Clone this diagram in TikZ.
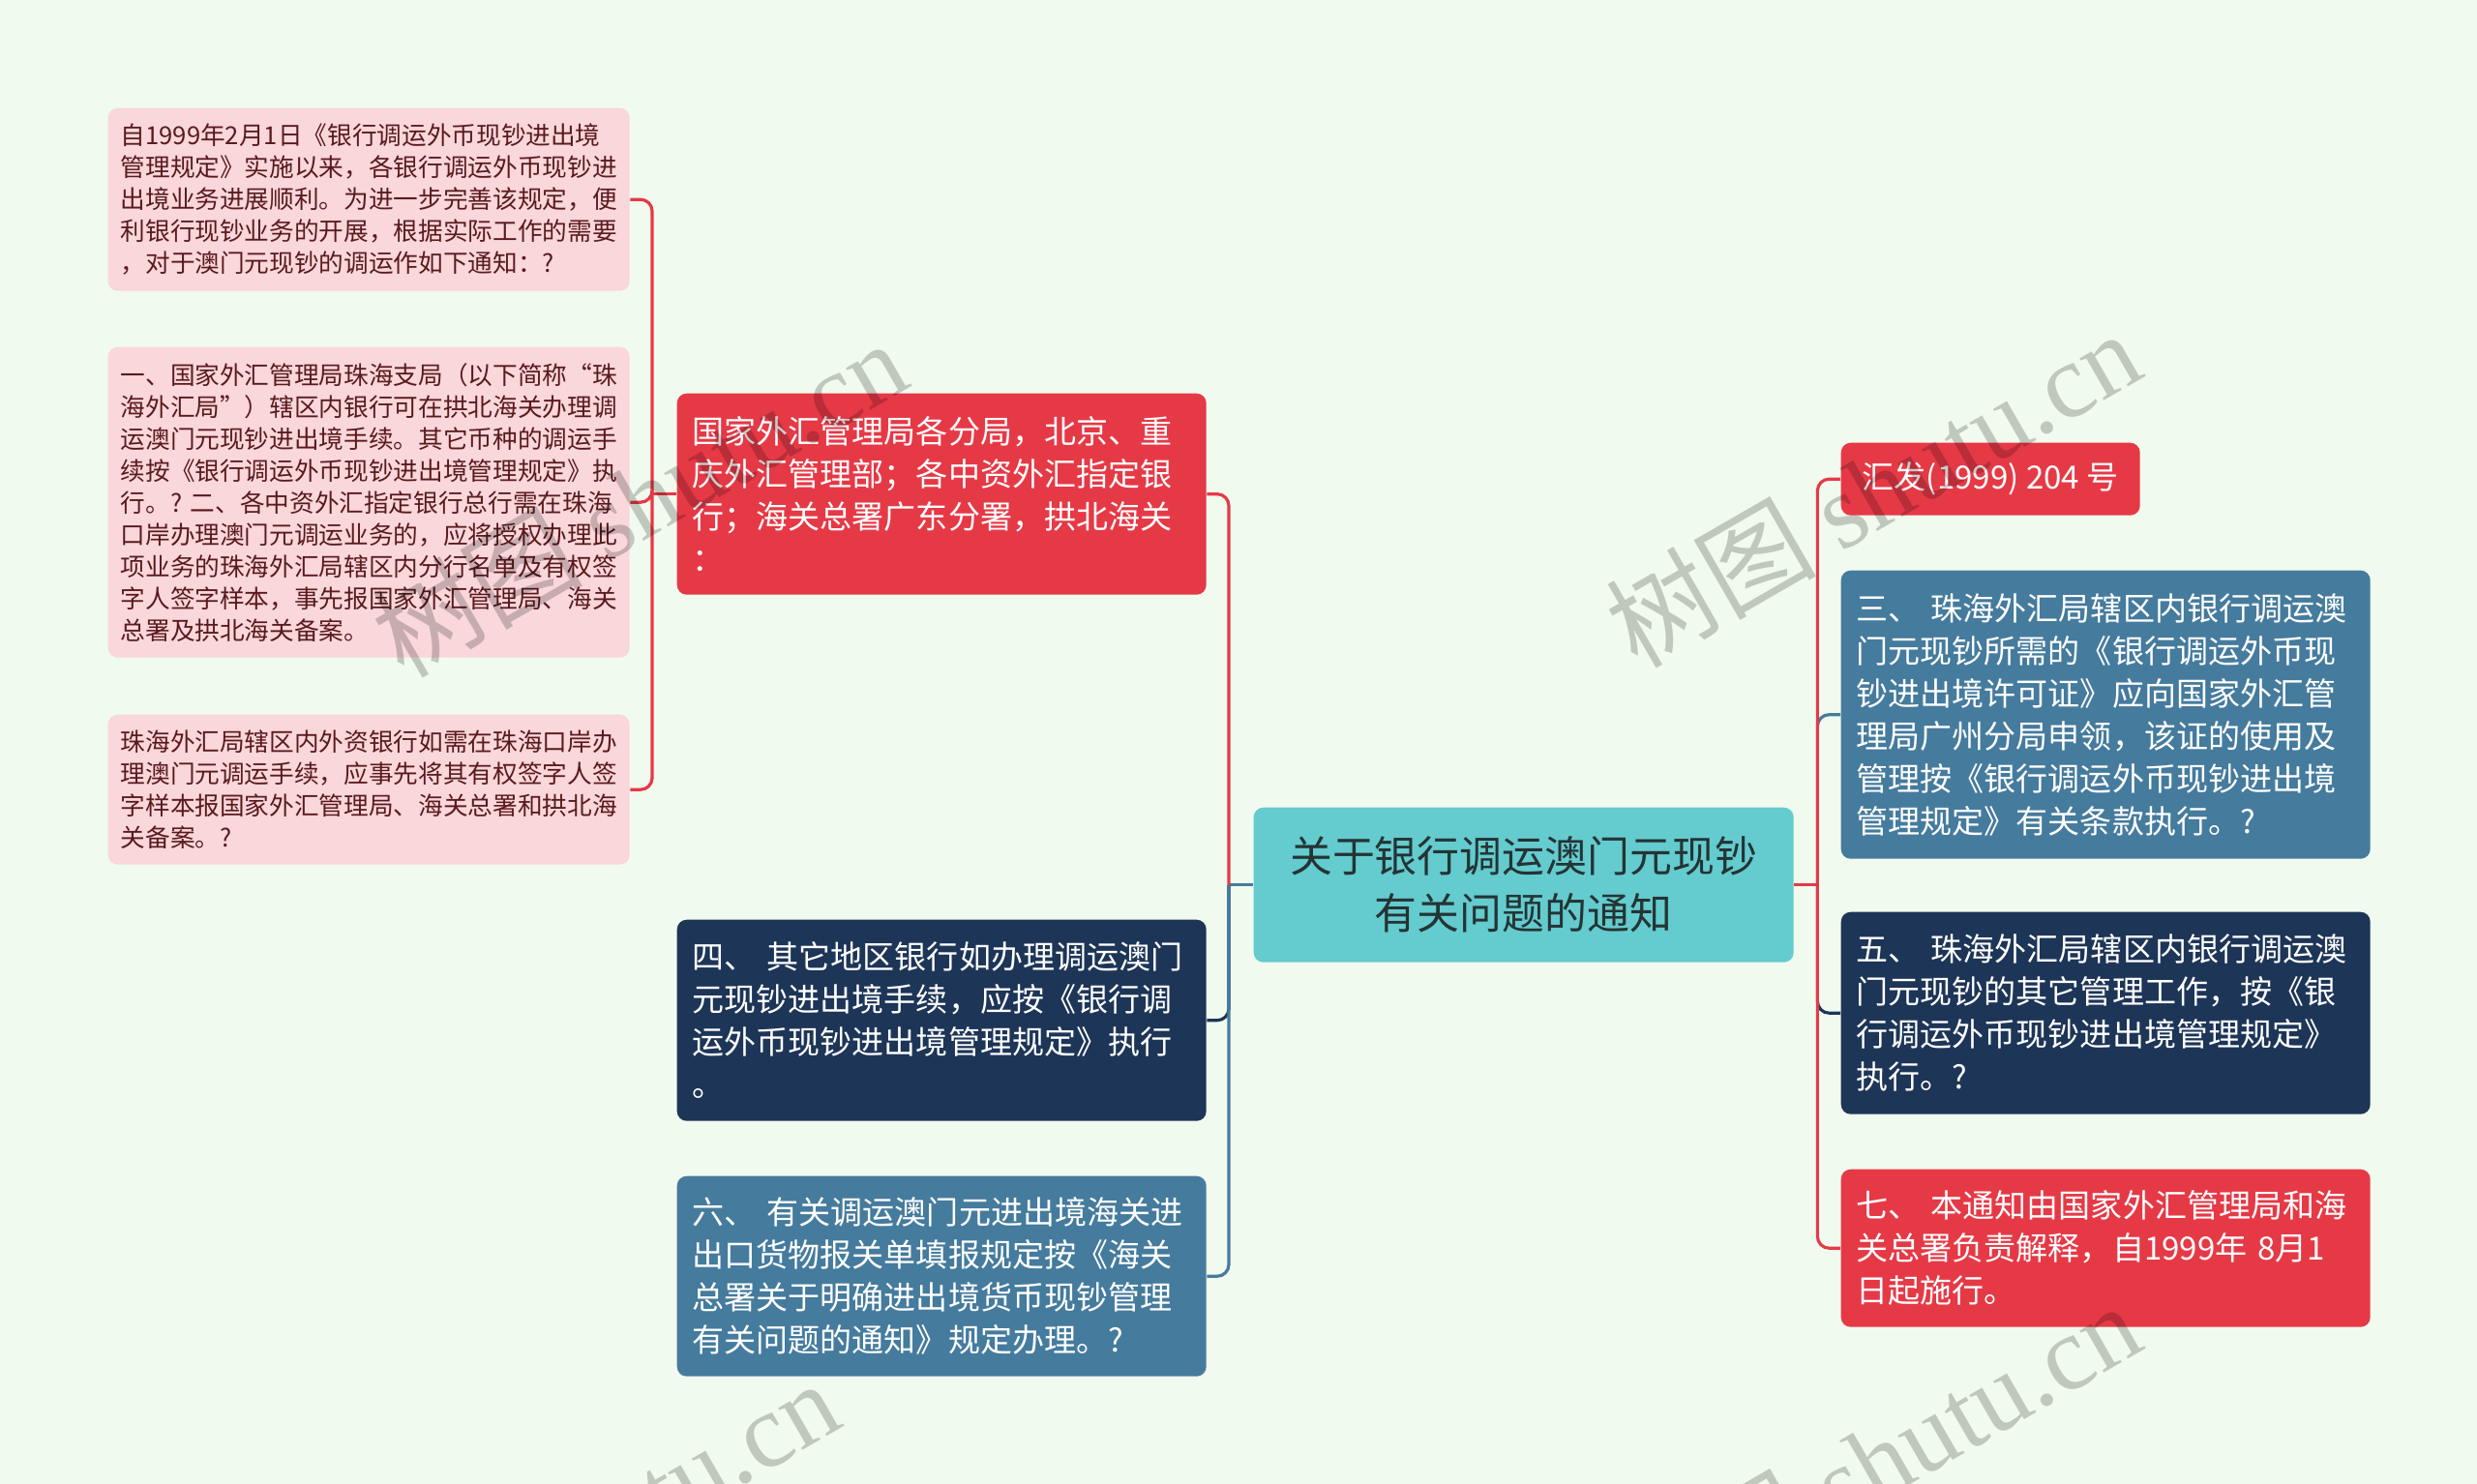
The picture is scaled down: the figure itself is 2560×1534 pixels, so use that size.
\documentclass[tikz,border=0pt]{standalone}
\usepackage{fontspec}
\setmainfont{Noto Sans CJK SC}
\newfontfamily\wmfont{Liberation Serif}
\usetikzlibrary{positioning}
\definecolor{bgc}{HTML}{F1FAEE}
\definecolor{redc}{HTML}{E63946}
\definecolor{navyc}{HTML}{1D3557}
\definecolor{bluec}{HTML}{457B9D}
\definecolor{tealc}{HTML}{64CBCE}
\definecolor{pinkc}{HTML}{F9D7DB}
\definecolor{leaftext}{HTML}{5A1A1E}
\definecolor{roottext}{HTML}{243434}

\begin{document}
\begin{tikzpicture}[x=0.1mm, y=-0.1mm,
root/.style={fill=tealc, text=roottext, rounded corners=1mm, anchor=north west,
  font=\fontsize{12.5}{16.8}\selectfont, align=center, minimum width=55.8mm, minimum height=16mm},
topic/.style={fill=#1, text=white, rounded corners=1mm, anchor=north west,
  font=\fontsize{9.4}{12.5}\selectfont, align=left, inner xsep=1.6mm, text width=51.5mm},
leaf/.style={fill=pinkc, text=leaftext, rounded corners=1mm, anchor=north west,
  font=\fontsize{7.3}{9.4}\selectfont, align=left, inner xsep=1.3mm, text width=51.3mm, minimum height=#1},
link/.style={line width=0.9pt, rounded corners=1.2mm},
wm/.style={rotate=30, text=black, text opacity=0.2, font=\fontsize{31}{31}\selectfont}]

\fill[bgc] (0,0) rectangle (2560,1534);
\useasboundingbox (0,0) rectangle (2560,1534);

\node[root] (c) at (1295,834) {关于银行调运澳门元现钞\\有关问题的通知};

\node[topic=redc, minimum height=20.8mm] (l1) at (699,406) {国家外汇管理局各分局，北京、重\\庆外汇管理部；各中资外汇指定银\\行；海关总署广东分署，拱北海关\\：};
\node[topic=navyc, minimum height=20.8mm] (l2) at (699,950) {四、~其它地区银行如办理调运澳门\\元现钞进出境手续，应按《银行调\\运外币现钞进出境管理规定》执行\\。};
\node[topic=bluec, minimum height=20.7mm] (l3) at (699,1215) {六、~有关调运澳门元进出境海关进\\出口货物报关单填报规定按《海关\\总署关于明确进出境货币现钞管理\\有关问题的通知》规定办理。?};

\node[leaf=18.9mm] (k1) at (111,111) {自1999年2月1日《银行调运外币现钞进出境\\管理规定》实施以来，各银行调运外币现钞进\\出境业务进展顺利。为进一步完善该规定，便\\利银行现钞业务的开展，根据实际工作的需要\\，对于澳门元现钞的调运作如下通知：?};
\node[leaf=32.1mm] (k2) at (111,358) {一、国家外汇管理局珠海支局（以下简称“珠\\海外汇局”）辖区内银行可在拱北海关办理调\\运澳门元现钞进出境手续。其它币种的调运手\\续按《银行调运外币现钞进出境管理规定》执\\行。?~二、各中资外汇指定银行总行需在珠海\\口岸办理澳门元调运业务的，应将授权办理此\\项业务的珠海外汇局辖区内分行名单及有权签\\字人签字样本，事先报国家外汇管理局、海关\\总署及拱北海关备案。};
\node[leaf=15.5mm] (k3) at (111,738) {珠海外汇局辖区内外资银行如需在珠海口岸办\\理澳门元调运手续，应事先将其有权签字人签\\字样本报国家外汇管理局、海关总署和拱北海\\关备案。?};

\node[topic=redc, text width=, minimum width=30.9mm, minimum height=7.5mm] (r1) at (1902,457) {汇发(1999)~204~号};
\node[topic=bluec, minimum height=29.8mm] (r2) at (1902,589) {三、~珠海外汇局辖区内银行调运澳\\门元现钞所需的《银行调运外币现\\钞进出境许可证》应向国家外汇管\\理局广州分局申领，该证的使用及\\管理按《银行调运外币现钞进出境\\管理规定》有关条款执行。?};
\node[topic=navyc, minimum height=20.9mm] (r3) at (1902,942) {五、~珠海外汇局辖区内银行调运澳\\门元现钞的其它管理工作，按《银\\行调运外币现钞进出境管理规定》\\执行。?};
\node[topic=redc, minimum height=16.3mm] (r4) at (1902,1208) {七、~本通知由国家外汇管理局和海\\关总署负责解释，自1999年~8月1\\日起施行。};

\draw[link, bluec] (c.west) -- ++(-25,0) coordinate (jl);
\foreach \n/\col in {l2/navyc, l3/bluec, l1/redc}{
\draw[link, \col] (jl) |- (\n.east);}
\draw[link, redc] (c.east) -- ++(24,0) coordinate (jr);
\foreach \n/\col in {r2/bluec, r1/redc, r3/navyc, r4/redc}{
\draw[link, \col] (jr) |- (\n.west);}
\draw[link, redc] (l1.west) -- ++(-25,0) coordinate (jk);
\foreach \n in {k1, k2, k3}{
\draw[link, redc] (jk) |- (\n.east);}

\node[wm] (w1) at (660,515) {树图 {\wmfont shutu.cn}};
\node[wm] (w2) at (1935,505) {树图 {\wmfont shutu.cn}};
\node[wm] (w3) at (590,1590) {树图 {\wmfont shutu.cn}};
\node[wm] (w4) at (1935,1510) {树图 {\wmfont shutu.cn}};
\end{tikzpicture}
\end{document}
